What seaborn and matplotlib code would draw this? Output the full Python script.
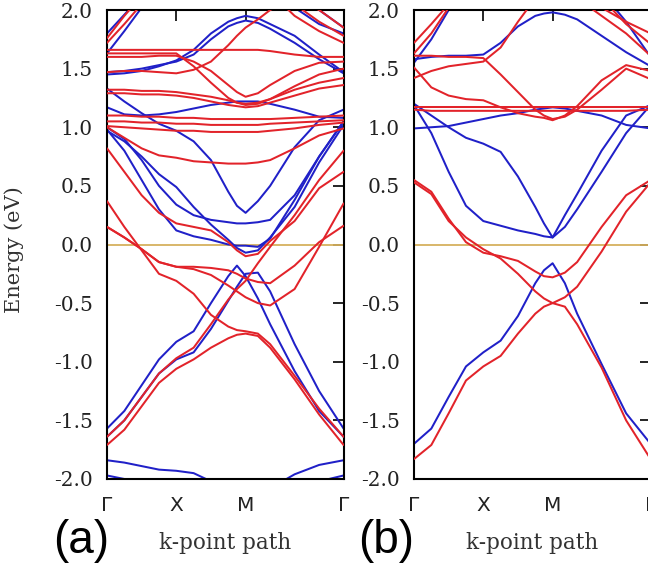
import numpy as np
import pandas as pd
import matplotlib
matplotlib.use("Agg")
import matplotlib.pyplot as plt
import seaborn as sns

# ---------------- data ----------------
# path distance of the sampled k-points (Γ-X = 1, X-M = 1, M-Γ = √2)
k_path = [0.0, 0.25, 0.5, 0.75, 1.0, 1.25, 1.5, 1.75, 1.875, 2.0,
          2.177, 2.354, 2.707, 3.061, 3.414]
k_tick_pos = [0.0, 1.0, 2.0, 3.414]
k_tick_labels = ["Γ", "X", "M", "Γ"]
e_ticks = [-2.0, -1.5, -1.0, -0.5, 0.0, 0.5, 1.0, 1.5, 2.0]
e_tick_labels = ["-2.0", "-1.5", "-1.0", "-0.5", "0.0", "0.5", "1.0", "1.5", "2.0"]
panel_labels = ["(a)", "(b)"]

# panel (a) spin-down (blue) bands, eV
aB1 = [-1.84, -1.86, -1.89, -1.92, -1.93, -1.95, -2.02, -2.12, -2.16, -2.20, -2.16, -2.08, -1.96, -1.88, -1.84]
aB2 = [-1.97, -2.00, -2.06, -2.12, -2.16, -2.20, -2.25, -2.30, -2.30, -2.30, -2.30, -2.25, -2.12, -2.02, -1.97]
aB3 = [-1.57, -1.42, -1.20, -0.98, -0.83, -0.74, -0.50, -0.27, -0.18, -0.27, -0.46, -0.68, -1.08, -1.42, -1.64]
aB4 = [-1.64, -1.50, -1.30, -1.10, -0.98, -0.92, -0.72, -0.48, -0.36, -0.25, -0.24, -0.40, -0.85, -1.25, -1.57]
aB5 = [1.33, 1.22, 1.12, 1.03, 0.97, 0.88, 0.72, 0.45, 0.33, 0.27, 0.37, 0.50, 0.83, 1.06, 1.15]
aB6 = [1.00, 0.90, 0.72, 0.50, 0.34, 0.25, 0.21, 0.19, 0.18, 0.18, 0.19, 0.21, 0.42, 0.75, 1.05]
aB7 = [0.98, 0.80, 0.55, 0.30, 0.12, 0.07, 0.04, 0.00, -0.01, -0.01, -0.02, 0.05, 0.38, 0.75, 1.05]
aB8 = [0.97, 0.88, 0.75, 0.60, 0.49, 0.32, 0.17, 0.04, -0.03, -0.07, -0.05, 0.06, 0.32, 0.70, 1.02]
aB9 = [1.17, 1.11, 1.10, 1.11, 1.13, 1.16, 1.19, 1.21, 1.22, 1.22, 1.22, 1.20, 1.15, 1.09, 1.08]
aB10 = [1.47, 1.48, 1.50, 1.53, 1.56, 1.62, 1.75, 1.86, 1.89, 1.91, 1.89, 1.84, 1.72, 1.58, 1.46]
aB11 = [1.45, 1.46, 1.48, 1.52, 1.57, 1.66, 1.80, 1.90, 1.93, 1.95, 1.93, 1.88, 1.78, 1.62, 1.47]
aB12 = [1.63, 1.82, 2.02, 2.20, 2.30, 2.40, 2.40, 2.40, 2.40, 2.40, 2.40, 2.30, 2.02, 1.88, 1.80]
aB13 = [1.80, 1.96, 2.12, 2.30, 2.40, 2.40, 2.40, 2.40, 2.40, 2.40, 2.40, 2.40, 2.20, 2.00, 1.85]

# panel (a) spin-up (red) bands, eV
aR1 = [-1.64, -1.50, -1.30, -1.10, -0.97, -0.88, -0.68, -0.47, -0.38, -0.31, -0.16, -0.02, 0.25, 0.55, 0.80]
aR2 = [-1.71, -1.58, -1.38, -1.18, -1.06, -0.98, -0.88, -0.80, -0.77, -0.76, -0.78, -0.88, -1.15, -1.45, -1.71]
aR3 = [0.37, 0.15, -0.05, -0.25, -0.31, -0.42, -0.60, -0.70, -0.73, -0.74, -0.76, -0.85, -1.12, -1.40, -1.64]
aR4 = [0.15, 0.06, -0.04, -0.15, -0.19, -0.19, -0.20, -0.22, -0.25, -0.29, -0.32, -0.33, -0.18, 0.02, 0.16]
aR5 = [0.15, 0.06, -0.04, -0.15, -0.19, -0.21, -0.26, -0.35, -0.40, -0.45, -0.50, -0.52, -0.38, -0.02, 0.35]
aR6 = [0.82, 0.62, 0.42, 0.27, 0.18, 0.15, 0.12, 0.02, -0.05, -0.10, -0.08, 0.03, 0.20, 0.48, 0.62]
aR7 = [1.00, 0.91, 0.82, 0.76, 0.74, 0.71, 0.70, 0.69, 0.69, 0.69, 0.70, 0.72, 0.82, 0.93, 0.99]
aR8 = [1.10, 1.10, 1.09, 1.09, 1.08, 1.08, 1.07, 1.07, 1.07, 1.07, 1.07, 1.07, 1.08, 1.09, 1.10]
aR9 = [1.05, 1.05, 1.04, 1.04, 1.03, 1.03, 1.02, 1.02, 1.02, 1.02, 1.02, 1.03, 1.04, 1.05, 1.06]
aR10 = [1.01, 1.00, 0.99, 0.98, 0.97, 0.97, 0.96, 0.96, 0.96, 0.96, 0.96, 0.97, 0.99, 1.02, 1.04]
aR11 = [1.32, 1.32, 1.31, 1.31, 1.30, 1.28, 1.26, 1.23, 1.21, 1.20, 1.21, 1.24, 1.32, 1.38, 1.42]
aR12 = [1.29, 1.29, 1.28, 1.28, 1.27, 1.25, 1.22, 1.19, 1.18, 1.17, 1.18, 1.21, 1.27, 1.33, 1.36]
aR13 = [1.63, 1.63, 1.63, 1.63, 1.63, 1.52, 1.38, 1.25, 1.21, 1.19, 1.20, 1.24, 1.35, 1.45, 1.50]
aR14 = [1.60, 1.60, 1.60, 1.61, 1.61, 1.56, 1.48, 1.36, 1.30, 1.26, 1.29, 1.36, 1.48, 1.55, 1.56]
aR15 = [1.66, 1.66, 1.66, 1.66, 1.66, 1.66, 1.66, 1.66, 1.66, 1.66, 1.66, 1.65, 1.62, 1.60, 1.60]
aR16 = [1.47, 1.48, 1.48, 1.47, 1.46, 1.49, 1.56, 1.70, 1.78, 1.85, 1.92, 2.00, 2.10, 2.00, 1.85]
aR17 = [1.72, 1.88, 2.05, 2.20, 2.30, 2.40, 2.40, 2.40, 2.40, 2.40, 2.30, 2.15, 1.95, 1.82, 1.72]
aR18 = [1.76, 1.95, 2.12, 2.30, 2.40, 2.40, 2.40, 2.40, 2.40, 2.40, 2.40, 2.25, 2.05, 1.90, 1.78]

# panel (b) spin-down (blue) bands, eV
bB1 = [-1.70, -1.57, -1.30, -1.04, -0.92, -0.82, -0.61, -0.33, -0.22, -0.16, -0.33, -0.59, -1.02, -1.44, -1.70]
bB2 = [1.19, 0.95, 0.62, 0.33, 0.20, 0.16, 0.12, 0.09, 0.07, 0.06, 0.15, 0.30, 0.62, 0.95, 1.19]
bB3 = [1.20, 1.10, 1.00, 0.91, 0.86, 0.79, 0.58, 0.32, 0.18, 0.06, 0.25, 0.43, 0.80, 1.10, 1.19]
bB4 = [0.99, 1.00, 1.01, 1.04, 1.07, 1.10, 1.12, 1.15, 1.16, 1.17, 1.16, 1.14, 1.10, 1.02, 0.99]
bB5 = [1.58, 1.60, 1.61, 1.61, 1.62, 1.72, 1.86, 1.95, 1.97, 1.98, 1.96, 1.92, 1.78, 1.64, 1.52]
bB6 = [1.55, 1.75, 2.00, 2.20, 2.30, 2.35, 2.40, 2.40, 2.40, 2.40, 2.35, 2.30, 2.15, 1.90, 1.60]

# panel (b) spin-up (red) bands, eV
bR1 = [-1.83, -1.71, -1.44, -1.16, -1.04, -0.95, -0.76, -0.59, -0.53, -0.50, -0.53, -0.68, -1.05, -1.50, -1.83]
bR2 = [0.55, 0.45, 0.22, 0.02, -0.07, -0.10, -0.14, -0.23, -0.27, -0.28, -0.24, -0.15, 0.15, 0.42, 0.55]
bR3 = [0.53, 0.43, 0.20, 0.06, -0.04, -0.12, -0.25, -0.40, -0.46, -0.50, -0.45, -0.36, -0.06, 0.28, 0.53]
bR4 = [1.61, 1.61, 1.60, 1.60, 1.59, 1.45, 1.30, 1.15, 1.10, 1.07, 1.09, 1.15, 1.32, 1.50, 1.41]
bR5 = [1.51, 1.34, 1.27, 1.24, 1.23, 1.17, 1.12, 1.09, 1.08, 1.06, 1.10, 1.18, 1.40, 1.53, 1.48]
bR6 = [1.42, 1.48, 1.52, 1.54, 1.56, 1.68, 1.90, 2.10, 2.20, 2.25, 2.20, 2.10, 1.95, 1.80, 1.61]
bR7 = [1.72, 1.88, 2.05, 2.20, 2.30, 2.35, 2.40, 2.40, 2.40, 2.40, 2.35, 2.20, 2.02, 1.90, 1.80]
bR8 = [1.17, 1.17, 1.17, 1.17, 1.17, 1.17, 1.17, 1.17, 1.17, 1.17, 1.17, 1.17, 1.17, 1.17, 1.17]
bR9 = [1.15, 1.14, 1.14, 1.14, 1.14, 1.14, 1.14, 1.14, 1.14, 1.14, 1.14, 1.14, 1.14, 1.14, 1.15]
bR10 = [1.63, 1.80, 2.02, 2.20, 2.30, 2.35, 2.40, 2.40, 2.40, 2.40, 2.40, 2.30, 2.10, 1.88, 1.71]

panel_a_blue = [aB1, aB2, aB3, aB4, aB5, aB6, aB7, aB8, aB9, aB10, aB11, aB12, aB13]
panel_a_red = [aR1, aR2, aR3, aR4, aR5, aR6, aR7, aR8, aR9, aR10, aR11, aR12,
               aR13, aR14, aR15, aR16, aR17, aR18]
panel_b_blue = [bB1, bB2, bB3, bB4, bB5, bB6]
panel_b_red = [bR1, bR2, bR3, bR4, bR5, bR6, bR7, bR8, bR9, bR10]


def long_frame(blue, red):
    rows = []
    for spin, bands in (("down", blue), ("up", red)):
        for i, band in enumerate(bands):
            for k, e in zip(k_path, band):
                rows.append({"k": k, "E": e, "spin": spin, "band": f"{spin}{i}"})
    return pd.DataFrame(rows)


# ---------------- style ----------------
sns.set_style("white")
plt.rcParams["font.family"] = ["DejaVu Serif"]
plt.rcParams["axes.linewidth"] = 1.5

RED = "#e2232a"
BLUE = "#2020c8"
FERMI = "#d6b15e"

fig = plt.figure(figsize=(6.48, 5.66), dpi=100)
W, H = 648.0, 566.0
ax_w = 236.6 / W
ax_h = 469.0 / H
bottom = (H - 479.0) / H
axes = [fig.add_axes([107.0 / W, bottom, ax_w, ax_h]),
        fig.add_axes([414.0 / W, bottom, ax_w, ax_h])]

panels = [(panel_a_blue, panel_a_red), (panel_b_blue, panel_b_red)]
label_x = [-0.11, -0.118]

for ax, (blue, red), lab, lx in zip(axes, panels, panel_labels, label_x):
    df = long_frame(blue, red)
    ax.axhline(0.0, color=FERMI, lw=1.3, zorder=1)
    for spin, col, z in (("down", BLUE, 2), ("up", RED, 3)):
        sub = df[df["spin"] == spin]
        sns.lineplot(data=sub, x="k", y="E", units="band", estimator=None,
                     color=col, lw=1.45, ax=ax, legend=False, zorder=z,
                     sort=False)
    ax.set_xlim(k_path[0], k_path[-1])
    ax.set_ylim(-2.0, 2.0)
    ax.set_yticks(e_ticks)
    ax.set_yticklabels(e_tick_labels)
    ax.set_xticks(k_tick_pos)
    ax.set_xticklabels(k_tick_labels, family="DejaVu Sans")
    ax.tick_params(axis="both", direction="in", length=8, width=1.2,
                   top=True, right=True, labelsize=14.5, colors="black")
    ax.tick_params(axis="y", pad=10)
    ax.tick_params(axis="x", pad=12)
    for lbl in ax.get_yticklabels():
        lbl.set_color("#222222")
    for lbl in ax.get_xticklabels():
        lbl.set_color("#222222")
    ax.set_xlabel("")
    ax.set_ylabel("")
    for sp in ax.spines.values():
        sp.set_visible(True)
        sp.set_color("black")
        sp.set_linewidth(1.5)
    # k-point path label
    ax.text(0.5, -0.137, "k-point path", transform=ax.transAxes,
            ha="center", va="center", fontsize=15.5, color="#333333")
    ax.text(lx, -0.132, lab, transform=ax.transAxes, ha="center",
            va="center", fontsize=33, family="Liberation Sans", color="black")

axes[0].set_ylabel("Energy (eV)", fontsize=15, color="#333333")
axes[0].yaxis.set_label_coords(-0.352, 0.49)

fig.savefig("out.png", dpi=100)
